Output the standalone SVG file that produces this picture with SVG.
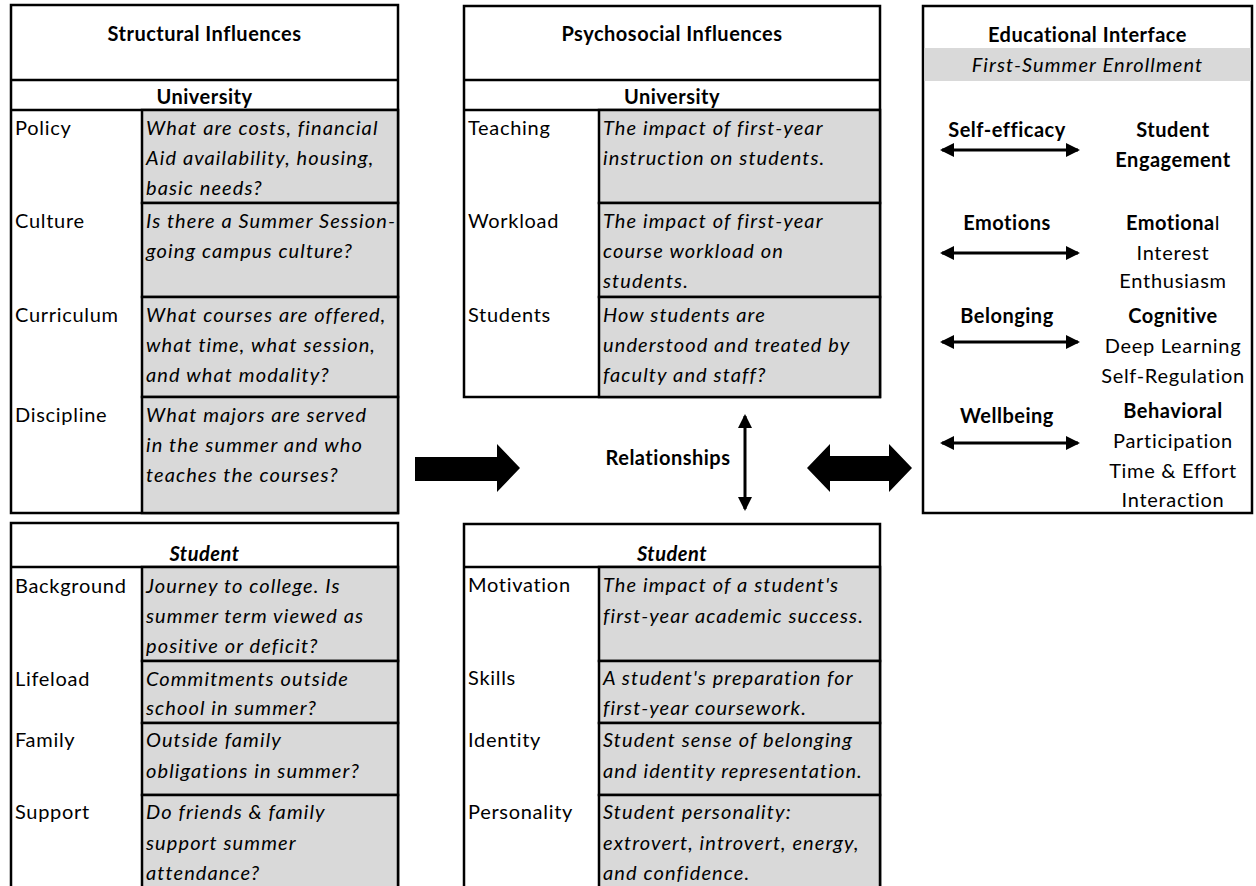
<svg xmlns="http://www.w3.org/2000/svg" width="1256" height="886" viewBox="0 0 1256 886">
  <style>
    text { font-family: Lato, "Open Sans", "Liberation Sans", sans-serif; font-size: 20px; letter-spacing: 0.7px; fill: #000; }
    .b { font-weight: bold; letter-spacing: 0.5px; }
    .i { font-style: italic; letter-spacing: 1.1px; }
    .b.i { letter-spacing: 0.5px; }
    .c { text-anchor: middle; }
    .frame { fill: #fff; stroke: #000; stroke-width: 2.5; }
    .cell { fill: #d9d9d9; stroke: #000; stroke-width: 2.5; }
    .rule { stroke: #000; stroke-width: 2.5; fill: none; }
    .thin { stroke: #000; stroke-width: 3; fill: none; }
    .block { fill: #000; }
  </style>
  <defs>
    <marker id="head" viewBox="0 0 14 14" refX="12" refY="7" markerWidth="14" markerHeight="14" markerUnits="userSpaceOnUse" orient="auto-start-reverse">
      <path d="M0,0 L14,7 L0,14 Z" fill="#000"/>
    </marker>
  </defs>

  <rect width="1256" height="886" fill="#fff"/>

  <!-- Structural influences: university table -->
  <g id="structural-university">
    <rect class="frame" x="11" y="5" width="387" height="508"/>
    <line class="rule" x1="11" y1="80" x2="398" y2="80"/>
    <line class="rule" x1="11" y1="110" x2="398" y2="110"/>
    <rect class="cell" x="142" y="110" width="256" height="93"/>
    <rect class="cell" x="142" y="203" width="256" height="94"/>
    <rect class="cell" x="142" y="297" width="256" height="100"/>
    <rect class="cell" x="142" y="397" width="256" height="116"/>
    <text class="b c" x="204.5" y="41">Structural Influences</text>
    <text class="b c" x="204.5" y="104">University</text>
    <text x="15" y="135">Policy</text>
    <text class="i" x="146" y="135">What are costs, financial</text>
    <text class="i" x="146" y="165">Aid availability, housing,</text>
    <text class="i" x="146" y="195">basic needs?</text>
    <text x="15" y="228">Culture</text>
    <text class="i" x="146" y="228">Is there a Summer Session-</text>
    <text class="i" x="146" y="258">going campus culture?</text>
    <text x="15" y="322">Curriculum</text>
    <text class="i" x="146" y="322">What courses are offered,</text>
    <text class="i" x="146" y="352">what time, what session,</text>
    <text class="i" x="146" y="382">and what modality?</text>
    <text x="15" y="422">Discipline</text>
    <text class="i" x="146" y="422">What majors are served</text>
    <text class="i" x="146" y="452">in the summer and who</text>
    <text class="i" x="146" y="482">teaches the courses?</text>
  </g>

  <!-- Structural influences: student table -->
  <g id="structural-student">
    <rect class="frame" x="11" y="523" width="387" height="380"/>
    <line class="rule" x1="11" y1="567" x2="398" y2="567"/>
    <rect class="cell" x="142" y="567" width="256" height="94"/>
    <rect class="cell" x="142" y="661" width="256" height="62"/>
    <rect class="cell" x="142" y="723" width="256" height="72"/>
    <rect class="cell" x="142" y="795" width="256" height="110"/>
    <text class="b i c" x="204.5" y="561">Student</text>
    <text x="15" y="593">Background</text>
    <text class="i" x="146" y="593">Journey to college. Is</text>
    <text class="i" x="146" y="623">summer term viewed as</text>
    <text class="i" x="146" y="653">positive or deficit?</text>
    <text x="15" y="686">Lifeload</text>
    <text class="i" x="146" y="686">Commitments outside</text>
    <text class="i" x="146" y="715">school in summer?</text>
    <text x="15" y="747">Family</text>
    <text class="i" x="146" y="747">Outside family</text>
    <text class="i" x="146" y="778">obligations in summer?</text>
    <text x="15" y="819">Support</text>
    <text class="i" x="146" y="819">Do friends &amp; family</text>
    <text class="i" x="146" y="850">support summer</text>
    <text class="i" x="146" y="880">attendance?</text>
  </g>

  <!-- Psychosocial influences: university table -->
  <g id="psychosocial-university">
    <rect class="frame" x="464" y="6" width="416" height="391"/>
    <line class="rule" x1="464" y1="80" x2="880" y2="80"/>
    <line class="rule" x1="464" y1="110" x2="880" y2="110"/>
    <rect class="cell" x="599" y="110" width="281" height="93"/>
    <rect class="cell" x="599" y="203" width="281" height="94"/>
    <rect class="cell" x="599" y="297" width="281" height="100"/>
    <text class="b c" x="672" y="41">Psychosocial Influences</text>
    <text class="b c" x="672" y="104">University</text>
    <text x="468" y="135">Teaching</text>
    <text class="i" x="603" y="135">The impact of first-year</text>
    <text class="i" x="603" y="165">instruction on students.</text>
    <text x="468" y="228">Workload</text>
    <text class="i" x="603" y="228">The impact of first-year</text>
    <text class="i" x="603" y="258">course workload on</text>
    <text class="i" x="603" y="288">students.</text>
    <text x="468" y="322">Students</text>
    <text class="i" x="603" y="322">How students are</text>
    <text class="i" x="603" y="352">understood and treated by</text>
    <text class="i" x="603" y="382">faculty and staff?</text>
  </g>

  <!-- Psychosocial influences: student table -->
  <g id="psychosocial-student">
    <rect class="frame" x="464" y="524" width="416" height="380"/>
    <line class="rule" x1="464" y1="567" x2="880" y2="567"/>
    <rect class="cell" x="599" y="567" width="281" height="94"/>
    <rect class="cell" x="599" y="661" width="281" height="62"/>
    <rect class="cell" x="599" y="723" width="281" height="72"/>
    <rect class="cell" x="599" y="795" width="281" height="110"/>
    <text class="b i c" x="672" y="561">Student</text>
    <text x="468" y="592">Motivation</text>
    <text class="i" x="603" y="592">The impact of a student's</text>
    <text class="i" x="603" y="623">first-year academic success.</text>
    <text x="468" y="685">Skills</text>
    <text class="i" x="603" y="685">A student's preparation for</text>
    <text class="i" x="603" y="715">first-year coursework.</text>
    <text x="468" y="747">Identity</text>
    <text class="i" x="603" y="747">Student sense of belonging</text>
    <text class="i" x="603" y="778">and identity representation.</text>
    <text x="468" y="819">Personality</text>
    <text class="i" x="603" y="819">Student personality:</text>
    <text class="i" x="603" y="850">extrovert, introvert, energy,</text>
    <text class="i" x="603" y="880">and confidence.</text>
  </g>

  <!-- Educational interface panel -->
  <g id="educational-interface">
    <rect class="frame" x="923" y="6" width="329" height="507"/>
    <rect x="924.5" y="48" width="326" height="33" fill="#d9d9d9"/>
    <text class="b c" x="1087.5" y="42">Educational Interface</text>
    <text class="i c" x="1087.5" y="72">First-Summer Enrollment</text>
    <text class="b c" x="1007" y="137">Self-efficacy</text>
    <text class="b c" x="1007" y="230">Emotions</text>
    <text class="b c" x="1007" y="323">Belonging</text>
    <text class="b c" x="1007" y="423">Wellbeing</text>
    <text class="b c" x="1173" y="137">Student</text>
    <text class="b c" x="1173" y="167">Engagement</text>
    <text class="c" x="1173" y="230"><tspan class="b">Emotiona</tspan>l</text>
    <text class="c" x="1173" y="260">Interest</text>
    <text class="c" x="1173" y="288">Enthusiasm</text>
    <text class="b c" x="1173" y="323">Cognitive</text>
    <text class="c" x="1173" y="353">Deep Learning</text>
    <text class="c" x="1173" y="383">Self-Regulation</text>
    <text class="b c" x="1173" y="418">Behavioral</text>
    <text class="c" x="1173" y="448">Participation</text>
    <text class="c" x="1173" y="478">Time &amp; Effort</text>
    <text class="c" x="1173" y="507">Interaction</text>
  </g>

  <!-- Relationships label -->
  <g id="relationships">
    <text class="b c" x="668" y="465">Relationships</text>
  </g>

  <!-- Connectors -->
  <g id="connectors">
    <!-- structural to psychosocial -->
    <path class="block" d="M415,457 L497,457 L497,444 L520,468 L497,492 L497,481 L415,481 Z"/>
    <!-- psychosocial to educational interface -->
    <path class="block" d="M807,468 L830,444 L830,456 L889,456 L889,444 L912,468 L889,492 L889,481 L830,481 L830,492 Z"/>
    <!-- university to student -->
    <line class="thin" x1="745" y1="416" x2="745" y2="509" marker-start="url(#head)" marker-end="url(#head)"/>
    <!-- interface pairings -->
    <line class="thin" x1="942" y1="150" x2="1078" y2="150" marker-start="url(#head)" marker-end="url(#head)"/>
    <line class="thin" x1="942" y1="253" x2="1078" y2="253" marker-start="url(#head)" marker-end="url(#head)"/>
    <line class="thin" x1="942" y1="342" x2="1078" y2="342" marker-start="url(#head)" marker-end="url(#head)"/>
    <line class="thin" x1="942" y1="443" x2="1078" y2="443" marker-start="url(#head)" marker-end="url(#head)"/>
  </g>
</svg>
